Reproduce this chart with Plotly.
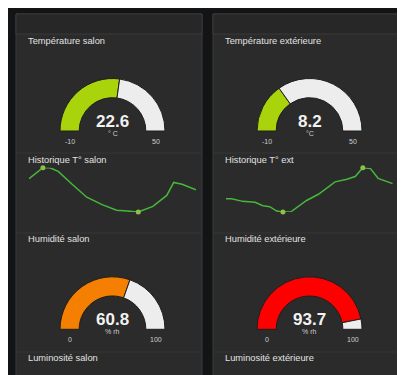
import plotly.graph_objects as go

# page body adds an 8px offset; figure is drawn in reference-pixel coordinates shifted by it
OFF = 8
W, H = 397, 420

# ---------------- data ----------------
gauge_titles = ["Température salon", "Température extérieure", "Humidité salon", "Humidité extérieure"]
gauge_values = [22.6, 8.2, 60.8, 93.7]
gauge_min = [-10, -10, 0, 0]
gauge_max = [50, 50, 100, 100]
gauge_units = ["° C", "°C", "% rh", "% rh"]
gauge_colors = ["#a9d40b", "#a9d40b", "#f57f00", "#ff0000"]

hist_titles = ["Historique T° salon", "Historique T° ext"]
hist_salon_h = [0, 2.0, 3.0, 4.2, 6.2, 8.3, 10.5, 12.6, 14.1, 15.7, 17.8, 19.8, 20.8, 22.0, 24.0]
hist_salon_t = [23.0, 23.6, 23.6, 23.4, 22.7, 22.0, 21.6, 21.3, 21.25, 21.2, 21.5, 22.1, 22.8, 22.7, 22.4]
hist_ext_h = [0, 0.8, 2.4, 4.2, 5.3, 6.3, 7.3, 8.2, 9.3, 10.4, 11.6, 13.3, 14.5, 15.7, 17.4, 18.6, 19.7, 20.8, 21.9, 24.0]
hist_ext_t = [6.5, 6.5, 6.2, 6.1, 5.7, 5.6, 5.1, 5.0, 5.0, 5.6, 6.3, 7.0, 7.7, 8.4, 8.7, 9.0, 10.0, 9.9, 8.8, 8.2]

bottom_titles = ["Luminosité salon", "Luminosité extérieure"]

# ---------------- layout helpers ----------------
def px(x):
    return (x - OFF) / W

def py(y):
    return 1 - (y - OFF) / H

FONT = "Liberation Sans, Arial, sans-serif"
BG = "#131416"
PANEL = "#2b2b2b"
HEADER = "#272727"
BORDER = "#3b3b3b"
TXT = "#e2e2e2"
TS = 9.3

fig = go.Figure()
shapes = []
annotations = []

def label(text, x, y, size, color, xanchor="center", bold=False):
    annotations.append(dict(text=("<b>%s</b>" % text) if bold else text, x=px(x), y=py(y),
                            xref="paper", yref="paper", xanchor=xanchor, yanchor="middle",
                            showarrow=False, font=dict(family=FONT, size=size, color=color)))

panels = [(16, 202), (213, 399)]
for (x0, x1) in panels:
    shapes.append(dict(type="rect", xref="paper", yref="paper", x0=px(x0), x1=px(x1), y0=py(420), y1=py(14),
                       fillcolor=PANEL, line=dict(color=BORDER, width=1), layer="below"))
    shapes.append(dict(type="rect", xref="paper", yref="paper", x0=px(x0), x1=px(x1), y0=py(34), y1=py(14),
                       fillcolor=HEADER, line=dict(color=BORDER, width=1), layer="below"))
    for yy in [153, 233, 352]:
        shapes.append(dict(type="line", xref="paper", yref="paper", x0=px(x0), x1=px(x1), y0=py(yy), y1=py(yy),
                           line=dict(color="#363636", width=1), layer="below"))

# ---------------- gauges (donuts whose lower half is transparent) ----------------
gauge_centers = [(112.5, 131), (309.5, 131), (112.5, 329.3), (309.5, 329.3)]
R = 52.5
title_pos = [(26, 41), (223, 41), (26, 239), (223, 239)]
for i in range(4):
    cx, cy = gauge_centers[i]
    v, lo, hi = gauge_values[i], gauge_min[i], gauge_max[i]
    fig.add_trace(go.Pie(
        values=[v - lo, hi - v, hi - lo],
        sort=False, direction="clockwise", rotation=270, hole=0.635,
        marker=dict(colors=[gauge_colors[i], "#ededed", "rgba(0,0,0,0)"],
                    line=dict(color=["#1e1e1e", "#1e1e1e", "rgba(0,0,0,0)"], width=1)),
        textinfo="none", hoverinfo="skip", showlegend=False,
        domain=dict(x=[px(cx - R), px(cx + R)], y=[py(cy + R), py(cy - R)]),
    ))
    tx, ty = title_pos[i]
    label(gauge_titles[i], tx, ty, TS, TXT, xanchor="left")
    label(v, cx, cy - 9.5, 17, "#f2f2f2", bold=True)
    label(gauge_units[i], cx, cy + 2.5, 7, "#cfcfcf")
    label(str(lo), cx - 43, cy + 10, 7, "#cfcfcf")
    label(str(hi), cx + 43, cy + 10, 7, "#cfcfcf")

# ---------------- history lines ----------------
LINE = "#45b83c"
MARK = "#8dbf4a"
series = [(hist_salon_h, hist_salon_t, "x", "y"), (hist_ext_h, hist_ext_t, "x2", "y2")]
for (hx, ht, xa, ya) in series:
    fig.add_trace(go.Scatter(x=hx, y=ht, mode="lines", line=dict(color=LINE, width=1.5),
                             xaxis=xa, yaxis=ya, showlegend=False, hoverinfo="skip", cliponaxis=False))
    imax = ht.index(max(ht))
    imin = ht.index(min(ht))
    fig.add_trace(go.Scatter(x=[hx[imax], hx[imin]], y=[ht[imax], ht[imin]], mode="markers",
                             marker=dict(color=MARK, size=5), xaxis=xa, yaxis=ya,
                             showlegend=False, hoverinfo="skip", cliponaxis=False))

for i, t in enumerate(hist_titles):
    label(t, [26, 223][i], 160, TS, TXT, xanchor="left")
for i, t in enumerate(bottom_titles):
    label(t, [26, 223][i], 358, TS, TXT, xanchor="left")

ax = dict(showgrid=False, zeroline=False, showticklabels=False, showline=False, ticks="", fixedrange=True)
ydom = [py(212), py(167.7)]
fig.update_layout(
    width=W, height=H, margin=dict(l=0, r=0, t=0, b=0),
    paper_bgcolor=BG, plot_bgcolor="rgba(0,0,0,0)",
    xaxis=dict(ax, domain=[px(29), px(196)], range=[0, 24]),
    yaxis=dict(ax, domain=ydom, range=[min(hist_salon_t), max(hist_salon_t)]),
    xaxis2=dict(ax, domain=[px(226), px(392.7)], range=[0, 24], anchor="y2"),
    yaxis2=dict(ax, domain=ydom, range=[min(hist_ext_t), max(hist_ext_t)], anchor="x2"),
    shapes=shapes, annotations=annotations,
)

fig.write_html("out.html")
